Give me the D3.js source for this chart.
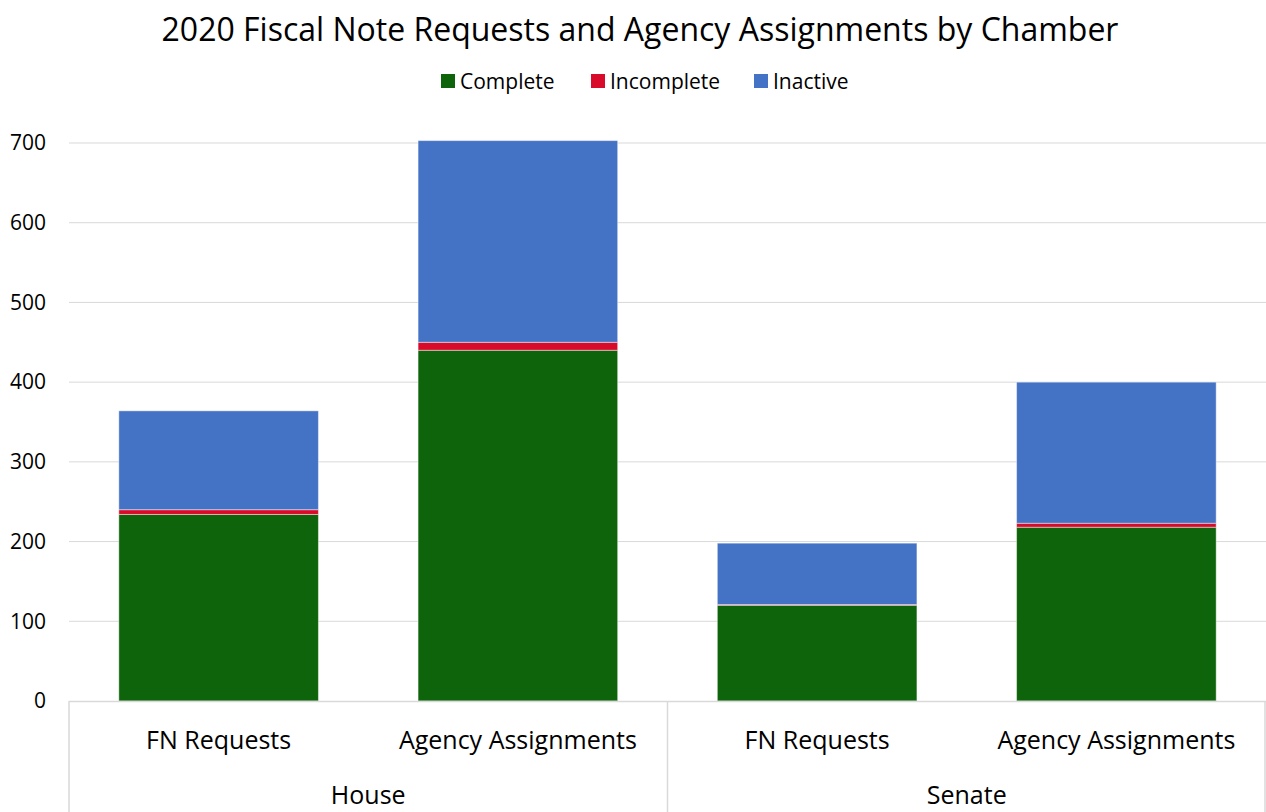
<!DOCTYPE html>
<html>
<head>
<meta charset="utf-8">
<script src="https://cdn.jsdelivr.net/npm/d3@7"></script>
<style>
  body { margin: 0; background: #fff; }
  svg { font-family: "Open Sans", sans-serif; }
</style>
</head>
<body>
<script>
// chart data
const groups = ["House", "House", "Senate", "Senate"];
const categories = ["FN Requests", "Agency Assignments", "FN Requests", "Agency Assignments"];
const complete = [234, 440, 120, 218];
const incomplete = [6, 10, 1, 5];
const inactive = [124, 253, 77, 177];
const seriesNames = ["Complete", "Incomplete", "Inactive"];
const seriesColors = ["#0d640b", "#d90b2a", "#4472c4"];
const yTicks = [0, 100, 200, 300, 400, 500, 600, 700];

const width = 1266, height = 812;
const margin = { left: 69, right: 0, top: 143, bottom: 111 };

const svg = d3.select("body").append("svg")
    .attr("width", width)
    .attr("height", height);

const rows = categories.map((c, i) => ({
    key: i, cat: c, group: groups[i],
    Complete: complete[i], Incomplete: incomplete[i], Inactive: inactive[i]
}));

const x = d3.scaleBand()
    .domain(rows.map(d => d.key))
    .range([margin.left, width - margin.right])
    .paddingInner(0.333)
    .paddingOuter(0.1665);

const y = d3.scaleLinear()
    .domain([0, 700])
    .range([height - margin.bottom, margin.top]);

// title
svg.append("text")
    .attr("x", 640)
    .attr("y", 41)
    .attr("text-anchor", "middle")
    .style("font-size", "32px")
    .attr("fill", "#000")
    .text("2020 Fiscal Note Requests and Agency Assignments by Chamber");

// gridlines
svg.append("g")
    .selectAll("line")
    .data(yTicks.slice(1))
    .join("line")
    .attr("x1", margin.left)
    .attr("x2", width - margin.right)
    .attr("y1", d => y(d))
    .attr("y2", d => y(d))
    .attr("stroke", "#d9d9d9")
    .attr("stroke-width", 1);

// y axis labels
const yAxis = d3.axisLeft(y)
    .tickValues(yTicks)
    .tickSize(0)
    .tickPadding(23);

svg.append("g")
    .attr("transform", `translate(${margin.left},0)`)
    .call(yAxis)
    .call(g => g.select(".domain").remove())
    .call(g => g.selectAll("text")
        .style("font-size", "21px")
        .style("font-family", "'Open Sans', sans-serif")
        .attr("fill", "#000"));

// stacked bars
const stack = d3.stack().keys(seriesNames);
const layers = stack(rows);

svg.append("g")
    .selectAll("g")
    .data(layers)
    .join("g")
    .attr("fill", (d, i) => seriesColors[i])
    .selectAll("rect")
    .data(d => d)
    .join("rect")
    .attr("x", d => x(d.data.key))
    .attr("width", x.bandwidth())
    .attr("y", d => y(d[1]))
    .attr("height", d => y(d[0]) - y(d[1]))
    .attr("stroke", "rgba(255,255,255,0.45)")
    .attr("stroke-width", 1);

// category axis box
const base = y(0);
const axisG = svg.append("g");
axisG.append("line")
    .attr("x1", margin.left).attr("x2", width)
    .attr("y1", base + 0.5).attr("y2", base + 0.5)
    .attr("stroke", "#d9d9d9").attr("stroke-width", 1.5);

const groupNames = Array.from(new Set(groups));
const groupBounds = groupNames.map(g => {
    const idx = rows.filter(r => r.group === g).map(r => r.key);
    const step = x.step();
    const x0 = x(idx[0]) - x.paddingInner() * step / 2;
    const x1 = x(idx[idx.length - 1]) + x.bandwidth() + x.paddingInner() * step / 2;
    return { name: g, x0: x0, x1: x1 };
});
groupBounds[0].x0 = margin.left;
groupBounds[groupBounds.length - 1].x1 = width;

axisG.selectAll("line.sep")
    .data([margin.left, groupBounds[0].x1, width - 1])
    .join("line")
    .attr("class", "sep")
    .attr("x1", d => d).attr("x2", d => d)
    .attr("y1", base).attr("y2", height)
    .attr("stroke", "#d9d9d9").attr("stroke-width", 1.5);

axisG.selectAll("text.cat")
    .data(rows)
    .join("text")
    .attr("class", "cat")
    .attr("x", d => x(d.key) + x.bandwidth() / 2)
    .attr("y", 749)
    .attr("text-anchor", "middle")
    .style("font-size", "25px")
    .attr("fill", "#000")
    .text(d => d.cat);

axisG.selectAll("text.grp")
    .data(groupBounds)
    .join("text")
    .attr("class", "grp")
    .attr("x", d => (d.x0 + d.x1) / 2)
    .attr("y", 804)
    .attr("text-anchor", "middle")
    .style("font-size", "25px")
    .attr("fill", "#000")
    .text(d => d.name);

// legend
const legendX = [441, 591, 754];
const legend = svg.append("g")
    .selectAll("g")
    .data(seriesNames)
    .join("g")
    .attr("transform", (d, i) => `translate(${legendX[i]},74)`);

legend.append("rect")
    .attr("width", 14)
    .attr("height", 14)
    .attr("fill", (d, i) => seriesColors[i]);

legend.append("text")
    .attr("x", 19)
    .attr("y", 15)
    .style("font-size", "21px")
    .attr("fill", "#000")
    .text(d => d);
</script>
</body>
</html>
